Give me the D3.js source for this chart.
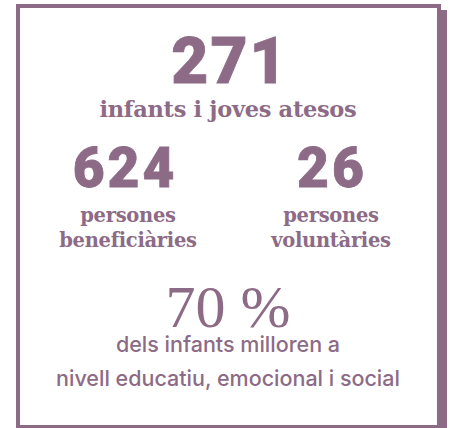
<!DOCTYPE html>
<html>
<head>
<meta charset="utf-8">
<script src="https://cdn.jsdelivr.net/npm/d3@7"></script>
<style>
  html, body { margin: 0; padding: 0; background: #ffffff; }
  svg { display: block; }
</style>
</head>
<body>
<script>
// ---- data ----
const bigValues = ["271", "624", "26"];
const bigLabels = [["infants i joves atesos"], ["persones", "beneficiàries"], ["persones", "voluntàries"]];
const pctValue = "70 %";
const pctLabel = ["dels infants milloren a", "nivell educatiu, emocional i social"];

const W = 452, H = 428;
const color = "#8d6b87";

const svg = d3.select("body").append("svg").attr("width", W).attr("height", H);

// frame with offset shadow
svg.append("rect").attr("x", 22).attr("y", 10).attr("width", 425).attr("height", 425).attr("fill", color);
svg.append("rect").attr("x", 18).attr("y", 6).attr("width", 421).attr("height", 421)
  .attr("fill", "#ffffff").attr("stroke", color).attr("stroke-width", 4);

const g = svg.append("g").attr("fill", color);

const bigFont = "Roboto, 'DejaVu Sans', sans-serif";
const serif = "'DejaVu Serif', serif";

// positions for the three big figures
const xs = d3.scaleOrdinal().domain(bigValues).range([230, 125, 332]);
const ys = d3.scaleOrdinal().domain(bigValues).range([83, 187, 187]);
const sizes = d3.scaleOrdinal().domain(bigValues).range([64, 55, 55]);

g.selectAll("text.big").data(bigValues).join("text")
  .attr("class", "big")
  .attr("x", d => xs(d)).attr("y", d => ys(d))
  .attr("text-anchor", "middle")
  .attr("font-family", bigFont).attr("font-weight", 900)
  .attr("font-size", d => sizes(d))
  .attr("letter-spacing", d => d === "271" ? 2 : 3)
  .attr("stroke", color).attr("stroke-width", 0.8)
  .text(d => d);

// labels under big figures
const labelY = [117, 222, 222];
const labelX = [228, 128, 331];
bigLabels.forEach((lines, i) => {
  const t = g.append("text")
    .attr("x", labelX[i])
    .attr("y", labelY[i])
    .attr("text-anchor", "middle")
    .attr("font-family", serif).attr("font-weight", "bold")
    .attr("font-size", i === 0 ? 22.5 : 19.5)
    .attr("letter-spacing", -0.3);
  lines.forEach((l, j) => {
    t.append("tspan").attr("x", labelX[i]).attr("dy", j === 0 ? 0 : 25).text(l);
  });
});

// percent
g.append("text")
  .attr("x", 228).attr("y", 327)
  .attr("text-anchor", "middle")
  .attr("font-family", "'Liberation Serif', serif")
  .attr("font-size", 60)
  .text(pctValue);

const pl = g.append("text")
  .attr("x", 228).attr("y", 352)
  .attr("text-anchor", "middle")
  .attr("font-family", "Inter, sans-serif").attr("font-weight", 500)
  .attr("font-size", 21.5);
pctLabel.forEach((l, j) => pl.append("tspan").attr("x", 228).attr("dy", j === 0 ? 0 : 34).text(l));
</script>
</body>
</html>
